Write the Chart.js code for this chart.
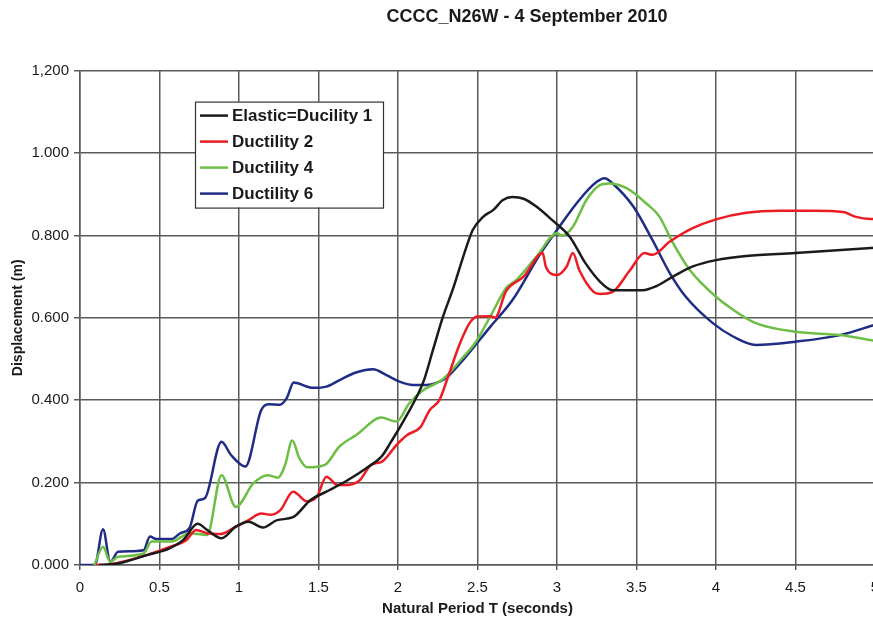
<!DOCTYPE html>
<html>
<head>
<meta charset="utf-8">
<script src="https://cdn.jsdelivr.net/npm/chart.js@4.4.1/dist/chart.umd.min.js"></script>
<style>
    html, body { margin: 0; padding: 0; background: #fff; overflow: hidden; }
    #wrap { width: 1054px; height: 623px; }
</style>
</head>
<body>
<div id="wrap"><canvas id="chart" width="1054" height="623"></canvas></div>
<script>
// Titles and labels
const chartTitle = 'CCCC_N26W - 4 September 2010';
const xTitle = 'Natural Period T (seconds)';
const yTitle = 'Displacement (m)';
const seriesNames = ['Elastic=Ducility 1', 'Ductility 2', 'Ductility 4', 'Ductility 6'];
const xTickLabels = ['0', '0.5', '1', '1.5', '2', '2.5', '3', '3.5', '4', '4.5', '5'];
const yTickLabels = ['0.000', '0.200', '0.400', '0.600', '0.800', '1.000', '1,200'];

// Elastic = Ductility 1 (black)
const elasticT = [0.12, 0.23, 0.42, 0.56, 0.65, 0.74, 0.80, 0.89, 0.98, 1.06, 1.15, 1.24, 1.34, 1.45, 1.55, 1.68, 1.80, 1.90, 1.95, 2.05, 2.16, 2.22, 2.28, 2.35, 2.41, 2.47, 2.535, 2.60, 2.66, 2.72, 2.79, 2.87, 2.97, 3.08, 3.18, 3.27, 3.35, 3.54, 3.62, 3.73, 3.85, 4.00, 4.19, 4.50, 5.00];
const elasticD = [0, 0.003, 0.024, 0.040, 0.061, 0.100, 0.085, 0.065, 0.093, 0.105, 0.091, 0.109, 0.116, 0.158, 0.178, 0.205, 0.235, 0.265, 0.295, 0.360, 0.445, 0.522, 0.599, 0.675, 0.748, 0.813, 0.845, 0.862, 0.886, 0.893, 0.889, 0.870, 0.837, 0.797, 0.732, 0.688, 0.667, 0.667, 0.676, 0.700, 0.724, 0.740, 0.750, 0.757, 0.770];

// Ductility 2 (red)
const duct2T = [0.10, 0.19, 0.42, 0.56, 0.67, 0.73, 0.80, 0.88, 0.98, 1.06, 1.14, 1.20, 1.26, 1.34, 1.43, 1.49, 1.55, 1.62, 1.70, 1.76, 1.83, 1.90, 1.99, 2.06, 2.14, 2.20, 2.26, 2.315, 2.39, 2.45, 2.50, 2.58, 2.61, 2.68, 2.79, 2.91, 2.93, 3.00, 3.06, 3.10, 3.14, 3.23, 3.27, 3.35, 3.46, 3.55, 3.60, 3.71, 3.85, 4.00, 4.19, 4.40, 4.61, 4.80, 4.88, 4.97, 5.00];
const duct2D = [0, 0.002, 0.024, 0.043, 0.061, 0.085, 0.077, 0.075, 0.093, 0.109, 0.125, 0.122, 0.133, 0.178, 0.154, 0.166, 0.214, 0.194, 0.195, 0.206, 0.243, 0.251, 0.291, 0.316, 0.334, 0.376, 0.400, 0.457, 0.538, 0.587, 0.603, 0.604, 0.600, 0.665, 0.700, 0.757, 0.724, 0.704, 0.724, 0.757, 0.716, 0.663, 0.658, 0.663, 0.716, 0.757, 0.753, 0.785, 0.817, 0.839, 0.855, 0.860, 0.860, 0.857, 0.845, 0.840, 0.840];

// Ductility 4 (green)
const duct4T = [0.09, 0.145, 0.19, 0.24, 0.40, 0.45, 0.575, 0.69, 0.80, 0.89, 0.98, 1.09, 1.18, 1.245, 1.29, 1.335, 1.38, 1.43, 1.54, 1.63, 1.74, 1.895, 1.99, 2.07, 2.16, 2.26, 2.31, 2.40, 2.49, 2.58, 2.68, 2.745, 2.87, 3.00, 3.03, 3.10, 3.185, 3.27, 3.33, 3.44, 3.56, 3.645, 3.73, 3.835, 4.00, 4.11, 4.25, 4.50, 4.78, 5.00];
const duct4D = [0, 0.044, 0.008, 0.020, 0.028, 0.057, 0.057, 0.077, 0.073, 0.218, 0.141, 0.198, 0.218, 0.212, 0.243, 0.302, 0.259, 0.237, 0.243, 0.287, 0.316, 0.358, 0.348, 0.392, 0.425, 0.445, 0.461, 0.500, 0.542, 0.603, 0.672, 0.692, 0.748, 0.805, 0.800, 0.821, 0.886, 0.922, 0.926, 0.914, 0.878, 0.845, 0.781, 0.716, 0.651, 0.619, 0.587, 0.566, 0.558, 0.544];

// Ductility 6 (blue)
const duct6T = [0, 0.093, 0.145, 0.19, 0.24, 0.40, 0.44, 0.48, 0.575, 0.63, 0.69, 0.74, 0.785, 0.89, 0.95, 1.04, 1.14, 1.19, 1.256, 1.30, 1.344, 1.37, 1.465, 1.55, 1.633, 1.74, 1.843, 1.927, 2.01, 2.094, 2.18, 2.26, 2.30, 2.41, 2.58, 2.72, 2.89, 3.00, 3.14, 3.25, 3.30, 3.35, 3.48, 3.60, 3.71, 3.81, 3.98, 4.11, 4.25, 4.50, 4.78, 5.00];
const duct6D = [0, 0, 0.087, 0.008, 0.032, 0.036, 0.069, 0.063, 0.063, 0.077, 0.091, 0.156, 0.162, 0.299, 0.267, 0.239, 0.376, 0.390, 0.389, 0.405, 0.443, 0.441, 0.430, 0.433, 0.449, 0.468, 0.475, 0.461, 0.445, 0.437, 0.437, 0.445, 0.453, 0.498, 0.578, 0.643, 0.752, 0.813, 0.886, 0.930, 0.939, 0.926, 0.870, 0.789, 0.708, 0.651, 0.587, 0.554, 0.534, 0.542, 0.558, 0.583];

const seriesColors = ['#1b1b1b', '#ec1c24', '#6dbe45', '#1f2d86'];

function toPoints(ts, ds) {
    return ts.map((t, i) => ({ x: t, y: ds[i] }));
}

const allT = [elasticT, duct2T, duct4T, duct6T];
const allD = [elasticD, duct2D, duct4D, duct6D];

const datasets = seriesNames.map((name, i) => ({
    label: name,
    data: toPoints(allT[i], allD[i]),
    borderColor: seriesColors[i],
    backgroundColor: seriesColors[i],
    borderWidth: 2.5,
    pointRadius: 0,
    fill: false,
    cubicInterpolationMode: 'monotone'
}));

const fontFamily = '"Liberation Sans", Arial, sans-serif';

// legend box drawn inside the plot, Excel style
const boxLegend = {
    id: 'boxLegend',
    afterDraw(chart) {
        const ctx = chart.ctx;
        const area = chart.chartArea;
        const x = area.left + 115;
        const y = area.top + 31;
        const w = 188;
        const h = 106;
        ctx.save();
        ctx.fillStyle = '#ffffff';
        ctx.fillRect(x, y, w, h);
        ctx.strokeStyle = '#333333';
        ctx.lineWidth = 1.2;
        ctx.strokeRect(x + 0.5, y + 0.5, w, h);
        ctx.font = 'bold 17px ' + fontFamily;
        ctx.textBaseline = 'middle';
        chart.data.datasets.forEach((ds, i) => {
            const cy = y + 14 + i * 26;
            ctx.strokeStyle = ds.borderColor;
            ctx.lineWidth = 2.5;
            ctx.beginPath();
            ctx.moveTo(x + 5, cy);
            ctx.lineTo(x + 33, cy);
            ctx.stroke();
            ctx.fillStyle = '#1a1a1a';
            ctx.fillText(ds.label, x + 37, cy + 1);
        });
        ctx.restore();
    }
};

const gridColor = '#5a5a5a';

new Chart(document.getElementById('chart').getContext('2d'), {
    type: 'line',
    data: { datasets: datasets },
    options: {
        responsive: false,
        animation: false,
        layout: { padding: 0 },
        plugins: {
            legend: { display: false },
            tooltip: { enabled: false },
            title: {
                display: true,
                text: chartTitle,
                color: '#1a1a1a',
                font: { family: fontFamily, size: 18, weight: 'bold' },
                padding: { top: 6, bottom: 43 }
            }
        },
        scales: {
            x: {
                type: 'linear',
                min: 0,
                max: 5,
                afterFit: function(scale) { scale.height = 58; },
                ticks: {
                    stepSize: 0.5,
                    padding: 9,
                    color: '#1a1a1a',
                    maxRotation: 0,
                    font: { family: fontFamily, size: 15 },
                    callback: function(value, index) { return xTickLabels[index]; }
                },
                grid: { color: gridColor, lineWidth: 1.5, tickLength: 5 },
                border: { color: gridColor, width: 1.5 },
                title: {
                    display: true,
                    text: xTitle,
                    color: '#1a1a1a',
                    font: { family: fontFamily, size: 15, weight: 'bold' },
                    padding: { top: 0, bottom: 5 }
                }
            },
            y: {
                min: 0,
                max: 1.2,
                afterFit: function(scale) { scale.width = 80; },
                ticks: {
                    stepSize: 0.2,
                    padding: 5,
                    color: '#1a1a1a',
                    font: { family: fontFamily, size: 15 },
                    callback: function(value, index) { return yTickLabels[index]; }
                },
                grid: { color: gridColor, lineWidth: 1.5, tickLength: 6 },
                border: { color: gridColor, width: 1.5 },
                title: {
                    display: true,
                    text: yTitle,
                    color: '#1a1a1a',
                    font: { family: fontFamily, size: 14, weight: 'bold' },
                    padding: { top: 10, bottom: 0 }
                }
            },
            // empty space to the right of the plot (the picture is cut off there)
            rightGap: {
                type: 'linear',
                position: 'right',
                afterFit: function(scale) { scale.width = 179; },
                ticks: { display: false },
                grid: { display: false },
                border: { display: false }
            }
        }
    },
    plugins: [boxLegend]
});
</script>
</body>
</html>
